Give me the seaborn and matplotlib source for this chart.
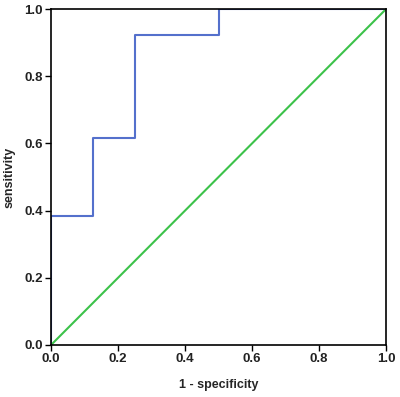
import matplotlib; matplotlib.use("Agg")
import numpy as np
import pandas as pd
import matplotlib.pyplot as plt
import seaborn as sns

# ROC curve points (1 - specificity, sensitivity)
fpr = [0.0, 0.0, 0.125, 0.125, 0.25, 0.25, 0.5, 0.5, 1.0]
tpr = [0.0, 0.385, 0.385, 0.615, 0.615, 0.923, 0.923, 1.0, 1.0]
ref_x = [0.0, 1.0]
ref_y = [0.0, 1.0]
ticks = [0.0, 0.2, 0.4, 0.6, 0.8, 1.0]

sns.set_style("white")
plt.rcParams["font.family"] = ["Liberation Sans", "DejaVu Sans"]

fig = plt.figure(figsize=(4.0, 3.97), dpi=100)
ax = fig.add_axes([0.1275, 0.131, 0.8375, 0.846])

roc = pd.DataFrame({"fpr": fpr, "tpr": tpr})
ref = pd.DataFrame({"x": ref_x, "y": ref_y})
sns.lineplot(data=roc, x="fpr", y="tpr", sort=False, estimator=None,
             color="#5470cc", lw=1.5, ax=ax)
sns.lineplot(data=ref, x="x", y="y", sort=False, estimator=None,
             color="#3cc24a", lw=1.5, ax=ax)

ax.set_xlim(0, 1); ax.set_ylim(0, 1)
ax.set_xticks(ticks); ax.set_yticks(ticks)
ax.set_xticklabels([f"{t:.1f}" for t in ticks], fontsize=9.5, fontweight="bold", color="#222222")
ax.set_yticklabels([f"{t:.1f}" for t in ticks], fontsize=9.5, fontweight="bold", color="#222222")
ax.tick_params(axis="both", direction="out", length=4, width=1, color="black",
               bottom=True, left=True, top=False, right=False, pad=2)
for s in ax.spines.values():
    s.set_color("black"); s.set_linewidth(1.2); s.set_visible(True)
ax.set_xlabel("1 - specificity", fontsize=9, fontweight="bold", labelpad=10)
ax.set_ylabel("sensitivity", fontsize=9, fontweight="bold", labelpad=6)

fig.savefig("out.png", dpi=100)
